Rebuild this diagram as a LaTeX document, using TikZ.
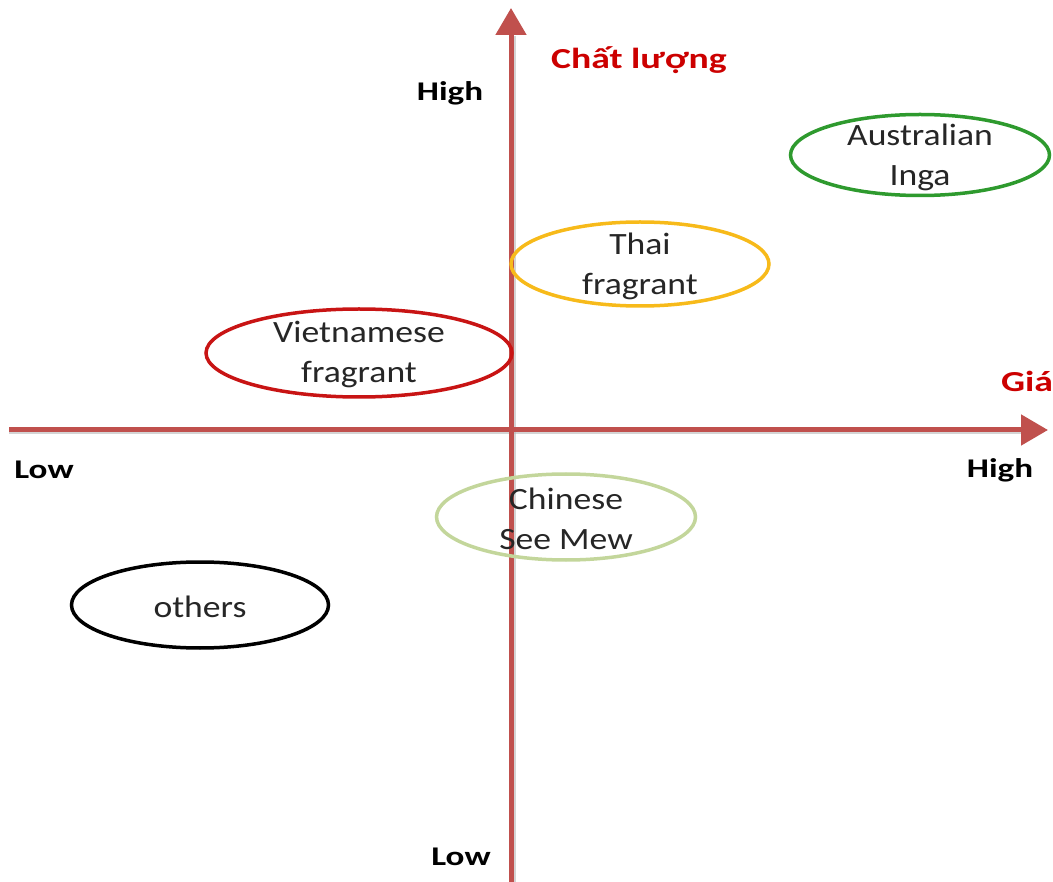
\documentclass[tikz,border=0pt]{standalone}
\usepackage{fontspec}
\setmainfont{Carlito}
\newfontfamily\ovalfont[FakeStretch=1.15]{Carlito}
\newfontfamily\axisfont[FakeStretch=1.3]{Carlito}
\usetikzlibrary{shapes.geometric,arrows.meta}
\definecolor{axisred}{HTML}{C0504D}
\definecolor{axisshade}{HTML}{B8B8B8}
\definecolor{ausgreen}{HTML}{2E9A2E}
\definecolor{thaiorange}{HTML}{F7BA1A}
\definecolor{vietred}{HTML}{C81414}
\definecolor{chinagreen}{HTML}{C3D69B}
\definecolor{labelred}{HTML}{CC0000}
\tikzset{
  axis/.style={draw=axisred, line width=5pt, -{Triangle[width=30pt,length=27pt]}},
  axisshadow/.style={draw=axisshade, line width=5pt, opacity=0.6},
  oval/.style={draw=#1, ellipse, line width=3.5pt, inner sep=0pt},
  ovaltext/.style={align=center, font=\ovalfont\fontsize{31}{40}\selectfont, text=black!85, yshift=-2pt},
  axislabel/.style={font=\axisfont\bfseries\fontsize{27}{32}\selectfont, text=black},
  axistitle/.style={font=\axisfont\bfseries\fontsize{29}{34}\selectfont, text=labelred}
}
\begin{document}
\begin{tikzpicture}[x=1pt,y=-1pt]
\useasboundingbox (0,0) rectangle (1053,882);
% axis end points
\coordinate (ybot) at (511,882);
\coordinate (ytop) at (511,8);
\coordinate (xleft) at (9,430);
\coordinate (xright) at (1048,430);
\coordinate (ybots) at (513,882);
\coordinate (ytops) at (513,36);
\coordinate (xlefts) at (9,432);
\coordinate (xrights) at (1022,432);
% soft shadow under the axes
\draw[axisshadow] (ybots) -- (ytops);
\draw[axisshadow] (xlefts) -- (xrights);
% axes
\draw[axis] (ybot) -- (ytop);
\draw[axis] (xleft) -- (xright);
% axis labels
\node[axistitle] (quality) at (639,60) {Chất lượng};
\node[axistitle] (price) at (1027,381) {Giá};
\node[axislabel] (yhigh) at (450,93) {High};
\node[axislabel] (ylow) at (461,857) {Low};
\node[axislabel] (xlow) at (44,470) {Low};
\node[axislabel] (xhigh) at (1000,470) {High};
% products
\node[oval=ausgreen, minimum width=259pt, minimum height=81pt] (aus) at (920,155) {};
\node[ovaltext] (austext) at (aus) {Australian\\Inga};
\node[oval=thaiorange, minimum width=258pt, minimum height=84pt] (thai) at (640,264) {};
\node[ovaltext] (thaitext) at (thai) {Thai\\fragrant};
\node[oval=vietred, minimum width=306pt, minimum height=88pt] (viet) at (359,353) {};
\node[ovaltext] (viettext) at (viet) {Vietnamese\\fragrant};
\node[oval=chinagreen, minimum width=259pt, minimum height=86pt] (china) at (566,517) {};
\node[ovaltext] (chinatext) at (china) {Chinese\\See Mew};
\node[oval=black, minimum width=257pt, minimum height=86pt] (others) at (200,605) {};
\node[ovaltext] (otherstext) at (others) {others};
\end{tikzpicture}
\end{document}
